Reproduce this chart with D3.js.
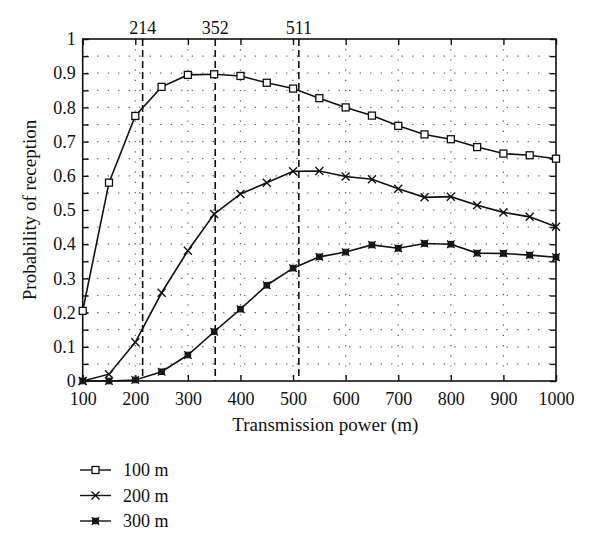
<!DOCTYPE html>
<html>
<head>
<meta charset="utf-8">
<script src="https://cdn.jsdelivr.net/npm/d3@7"></script>
<style>
  body { margin: 0; background: #fff; }
  text { font-family: "Liberation Serif", "DejaVu Serif", serif; fill: #111; }
</style>
</head>
<body>
<div id="chart"></div>
<script>
const powers = [100, 150, 200, 250, 300, 350, 400, 450, 500, 550, 600, 650, 700, 750, 800, 850, 900, 950, 1000]
const p100 = [0.205, 0.58, 0.775, 0.86, 0.895, 0.897, 0.892, 0.872, 0.855, 0.827, 0.80, 0.776, 0.746, 0.721, 0.707, 0.684, 0.665, 0.66, 0.65]
const p200 = [0, 0.02, 0.113, 0.258, 0.381, 0.488, 0.547, 0.58, 0.613, 0.614, 0.598, 0.59, 0.562, 0.537, 0.539, 0.514, 0.493, 0.48, 0.451]
const p300 = [0, 0, 0.003, 0.027, 0.076, 0.144, 0.21, 0.28, 0.33, 0.363, 0.377, 0.398, 0.388, 0.402, 0.40, 0.374, 0.373, 0.368, 0.362]
const markers = [214, 352, 511]
const xTicks = [100, 200, 300, 400, 500, 600, 700, 800, 900, 1000]
const yTicks = [0, 0.1, 0.2, 0.3, 0.4, 0.5, 0.6, 0.7, 0.8, 0.9, 1]
const seriesNames = ['100 m', '200 m', '300 m']

const margin = { left: 82.7, right: 44, top: 39, bottom: 168 }
const W = 600, H = 549
const width = W - margin.left - margin.right
const height = H - margin.top - margin.bottom

const svg = d3.select('#chart').append('svg')
    .attr('width', W).attr('height', H)

const g = svg.append('g')
    .attr('transform', `translate(${margin.left}, ${margin.top})`)

const x = d3.scaleLinear().domain([100, 1000]).range([0, width])
const y = d3.scaleLinear().domain([0, 1]).range([height, 0])

// dotted grid
const minorY = d3.range(0.05, 1, 0.05)
g.selectAll('.hgrid').data(minorY).join('line')
    .attr('x1', 0).attr('x2', width)
    .attr('y1', d => y(d)).attr('y2', d => y(d))
    .style('stroke', '#555').style('stroke-width', 1.2)
    .style('stroke-dasharray', '1.2,9.3')
    .style('stroke-dashoffset', -4)
g.selectAll('.vgrid').data(xTicks.slice(1, -1)).join('line')
    .attr('x1', d => x(d)).attr('x2', d => x(d))
    .attr('y1', 0).attr('y2', height)
    .style('stroke', '#555').style('stroke-width', 1.2)
    .style('stroke-dasharray', '1.2,9')

// dashed marker lines
g.selectAll('.mark').data(markers).join('line')
    .attr('x1', d => x(d)).attr('x2', d => x(d))
    .attr('y1', 0).attr('y2', height)
    .style('stroke', '#111').style('stroke-width', 1.6)
    .style('stroke-dasharray', '7,4')
g.selectAll('.marklabel').data(markers).join('text')
    .attr('x', d => x(d)).attr('y', -5)
    .attr('text-anchor', 'middle')
    .style('font-size', '18px')
    .text(d => d)

// axes
const minorTicks = d3.range(0, 1.001, 0.05)
const axBottom = d3.axisBottom(x).tickValues(xTicks).tickSizeInner(-6).tickSizeOuter(0).tickPadding(11)
    .tickFormat(d3.format('d'))
const axTop = d3.axisTop(x).tickValues(xTicks).tickSizeInner(-6).tickSizeOuter(0).tickFormat('')
const axLeft = d3.axisLeft(y).tickValues(minorTicks).tickSizeInner(-6).tickSizeOuter(0).tickPadding(7)
    .tickFormat(d => yTicks.some(t => Math.abs(t - d) < 1e-6) ? d3.format('~g')(+d.toFixed(2)) : '')
const axRight = d3.axisRight(y).tickValues(minorTicks).tickSizeInner(-6).tickSizeOuter(0).tickFormat('')

g.append('g').attr('transform', `translate(0, ${height})`).call(axBottom)
g.append('g').call(axTop)
g.append('g').call(axLeft)
g.append('g').attr('transform', `translate(${width}, 0)`).call(axRight)

g.selectAll('.domain').remove()
g.selectAll('.tick line').style('stroke', '#111').style('stroke-width', 1.4)
g.selectAll('.tick text').style('font-size', '18px').style('font-family', '"Liberation Serif", serif').style('fill', '#111')

g.append('rect')
    .attr('width', width).attr('height', height)
    .style('fill', 'none').style('stroke', '#111').style('stroke-width', 1.6)

// axis titles
svg.append('text')
    .attr('x', margin.left + width / 2 + 6).attr('y', 431)
    .attr('text-anchor', 'middle')
    .style('font-size', '19px')
    .text('Transmission power (m)')
svg.append('text')
    .attr('transform', `translate(36, ${margin.top + height / 2}) rotate(-90)`)
    .attr('text-anchor', 'middle')
    .style('font-size', '19px')
    .text('Probability of reception')

// markers
function drawMarker(sel, type) {
    if (type === 0) {
        sel.append('rect').attr('x', -3.5).attr('y', -3.5).attr('width', 7).attr('height', 7)
            .style('fill', '#fff').style('stroke', '#111').style('stroke-width', 1.3)
    } else if (type === 1) {
        sel.append('path').attr('d', 'M-4,-4L4,4M-4,4L4,-4')
            .style('stroke', '#111').style('stroke-width', 1.4)
    } else {
        sel.append('rect').attr('x', -2.8).attr('y', -2.8).attr('width', 5.6).attr('height', 5.6)
            .style('fill', '#222').style('stroke', '#111').style('stroke-width', 1)
        sel.append('path').attr('d', 'M-3.8,-3.8L3.8,3.8M-3.8,3.8L3.8,-3.8')
            .style('stroke', '#111').style('stroke-width', 1.1)
    }
}

const allSeries = [p100, p200, p300]
const line = d3.line().x((d, i) => x(powers[i])).y(d => y(d))

allSeries.forEach((vals, s) => {
    g.append('path').datum(vals)
        .attr('d', line)
        .style('fill', 'none').style('stroke', '#111').style('stroke-width', 1.6)
    g.selectAll('.pt' + s).data(vals).join('g')
        .attr('transform', (d, i) => `translate(${x(powers[i])}, ${y(d)})`)
        .each(function () { drawMarker(d3.select(this), s) })
})

// legend
const legend = svg.append('g').attr('transform', 'translate(80, 470)')
seriesNames.forEach((name, i) => {
    const row = legend.append('g').attr('transform', `translate(0, ${i * 25.5})`)
    row.append('line').attr('x1', 0).attr('x2', 31).attr('y1', 0).attr('y2', 0)
        .style('stroke', '#111').style('stroke-width', 1.4)
    const m = row.append('g').attr('transform', 'translate(15.5, 0)')
    drawMarker(m, i)
    row.append('text').attr('x', 43).attr('y', 6)
        .style('font-size', '18px')
        .text(name)
})
</script>
</body>
</html>
